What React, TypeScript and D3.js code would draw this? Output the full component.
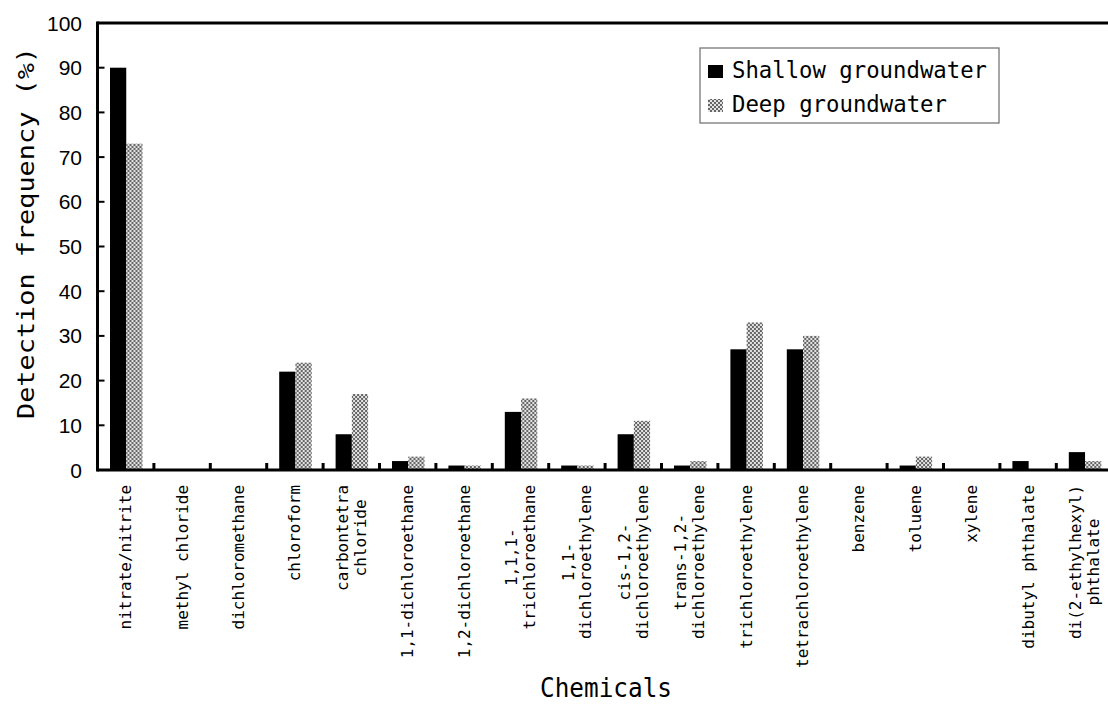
import React, { useRef, useEffect } from "react";
import * as d3 from "d3";

// categories along the x axis ("\n" marks a wrapped label)
const categories = [
  "nitrate/nitrite",
  "methyl chloride",
  "dichloromethane",
  "chloroform",
  "carbontetra\nchloride",
  "1,1-dichloroethane",
  "1,2-dichloroethane",
  "1,1,1-\ntrichloroethane",
  "1,1-\ndichloroethylene",
  "cis-1,2-\ndichloroethylene",
  "trans-1,2-\ndichloroethylene",
  "trichloroethylene",
  "tetrachloroethylene",
  "benzene",
  "toluene",
  "xylene",
  "dibutyl phthalate",
  "di(2-ethylhexyl)\nphthalate",
];

const shallow = [90, 0, 0, 22, 8, 2, 1, 13, 1, 8, 1, 27, 27, 0, 1, 0, 2, 4];
const deep = [73, 0, 0, 24, 17, 3, 1, 16, 1, 11, 2, 33, 30, 0, 3, 0, 0, 2];

const seriesNames = ["Shallow groundwater", "Deep groundwater"];
const yTicks = [0, 10, 20, 30, 40, 50, 60, 70, 80, 90, 100];

export default function App() {
  const ref = useRef<SVGSVGElement>(null);

  useEffect(() => {
    const width = 1108;
    const height = 705;
    const left = 97.5;
    const top = 23;
    const bottom = 470;
    const right = left + categories.length * 56.4; // frame runs past the picture edge

    const svg = d3.select(ref.current);
    svg.selectAll("*").remove();
    svg.attr("width", width).attr("height", height);

    // checkered fill for deep groundwater
    const pat = svg
      .append("defs")
      .append("pattern")
      .attr("id", "deepPat")
      .attr("patternUnits", "userSpaceOnUse")
      .attr("width", 4)
      .attr("height", 4);
    pat.append("rect").attr("width", 4).attr("height", 4).attr("fill", "#e2e2e2");
    pat.append("rect").attr("width", 2).attr("height", 2).attr("fill", "#666");
    pat.append("rect").attr("x", 2).attr("y", 2).attr("width", 2).attr("height", 2).attr("fill", "#666");

    const x0 = d3.scaleBand<string>().domain(categories).range([left, right]);
    const x1 = d3.scaleBand<string>().domain(seriesNames).range([12.5, 45]);
    const y = d3.scaleLinear().domain([0, 100]).range([bottom, top]);

    const rows = categories.map((c, i) => ({ c, vals: [shallow[i], deep[i]] }));
    const fills = ["#000", "url(#deepPat)"];

    // bars
    const groups = svg
      .append("g")
      .selectAll("g")
      .data(rows)
      .join("g")
      .attr("transform", (d) => `translate(${x0(d.c)},0)`);
    groups
      .selectAll("rect")
      .data((d) => d.vals.map((v, k) => ({ v, k })))
      .join("rect")
      .attr("x", (d) => x1(seriesNames[d.k])!)
      .attr("width", x1.bandwidth())
      .attr("y", (d) => y(d.v))
      .attr("height", (d) => y(0) - y(d.v))
      .attr("fill", (d) => fills[d.k]);

    // frame lines
    const frame = svg.append("g").attr("stroke", "#000").attr("stroke-width", 3);
    frame.append("line").attr("x1", left).attr("x2", width).attr("y1", top).attr("y2", top);
    frame.append("line").attr("x1", left).attr("x2", left).attr("y1", top - 1.5).attr("y2", bottom + 1.5);
    frame.append("line").attr("x1", left).attr("x2", width).attr("y1", bottom).attr("y2", bottom);

    // y ticks (inward) and labels
    const yAxis = svg.append("g");
    yAxis
      .selectAll("line")
      .data(yTicks)
      .join("line")
      .attr("x1", left)
      .attr("x2", left + 7)
      .attr("y1", (d) => y(d))
      .attr("y2", (d) => y(d))
      .attr("stroke", "#000")
      .attr("stroke-width", 2);
    yAxis
      .selectAll("text")
      .data(yTicks)
      .join("text")
      .attr("x", 82)
      .attr("y", (d) => y(d))
      .attr("dy", "0.36em")
      .attr("text-anchor", "end")
      .attr("font-family", "Liberation Sans, Arial, sans-serif")
      .attr("font-size", 21)
      .text((d) => d);

    // category separator ticks (upward)
    svg
      .append("g")
      .selectAll("line")
      .data(categories.slice(1))
      .join("line")
      .attr("x1", (d) => x0(d)!)
      .attr("x2", (d) => x0(d)!)
      .attr("y1", bottom)
      .attr("y2", bottom - 7)
      .attr("stroke", "#000")
      .attr("stroke-width", 3);

    // rotated category labels
    const charW = 9.63;
    const lineGap = 17.5;
    const labels = svg
      .append("g")
      .attr("font-family", "DejaVu Sans Mono, monospace")
      .attr("font-size", 16)
      .selectAll("g")
      .data(categories)
      .join("g")
      .attr("transform", (d) => `translate(${x0(d)! + x0.bandwidth() / 2},485) rotate(-90)`);
    labels.each(function (d) {
      const lines = d.split("\n");
      const maxLen = d3.max(lines, (l) => l.length)! * charW;
      d3.select(this)
        .selectAll("text")
        .data(lines)
        .join("text")
        .attr("x", -maxLen / 2)
        .attr("y", (l, i) => (i - (lines.length - 1) / 2) * lineGap)
        .attr("dominant-baseline", "central")
        .attr("text-anchor", "middle")
        .text((l) => l);
    });

    // axis titles
    svg
      .append("text")
      .attr("transform", "translate(26,233) rotate(-90)")
      .attr("text-anchor", "middle")
      .attr("dominant-baseline", "central")
      .attr("font-family", "DejaVu Sans Mono, monospace")
      .attr("font-size", 23)
      .attr("textLength", 372)
      .attr("lengthAdjust", "spacingAndGlyphs")
      .text("Detection frequency (%)");
    svg
      .append("text")
      .attr("x", 540)
      .attr("y", 697)
      .attr("font-family", "DejaVu Sans Mono, monospace")
      .attr("font-size", 26)
      .attr("textLength", 132)
      .attr("lengthAdjust", "spacingAndGlyphs")
      .text("Chemicals");

    // legend
    const legend = svg.append("g");
    legend
      .append("rect")
      .attr("x", 700)
      .attr("y", 48)
      .attr("width", 299)
      .attr("height", 75)
      .attr("fill", "#fff")
      .attr("stroke", "#777")
      .attr("stroke-width", 1.3);
    const legendRows = [
      { name: seriesNames[0], fill: fills[0], y: 78, len: 255 },
      { name: seriesNames[1], fill: fills[1], y: 112, len: 215 },
    ];
    legendRows.forEach((r) => {
      legend
        .append("rect")
        .attr("x", 708)
        .attr("y", r.y - 13)
        .attr("width", 15)
        .attr("height", 13)
        .attr("fill", r.fill);
      legend
        .append("text")
        .attr("x", 732)
        .attr("y", r.y)
        .attr("font-family", "DejaVu Sans Mono, monospace")
        .attr("font-size", 23)
        .attr("textLength", r.len)
        .attr("lengthAdjust", "spacingAndGlyphs")
        .text(r.name);
    });
  }, []);

  return (
    <div>
      <svg ref={ref} style={{ position: "absolute", left: 0, top: 0, background: "#fff" }} />
    </div>
  );
}
